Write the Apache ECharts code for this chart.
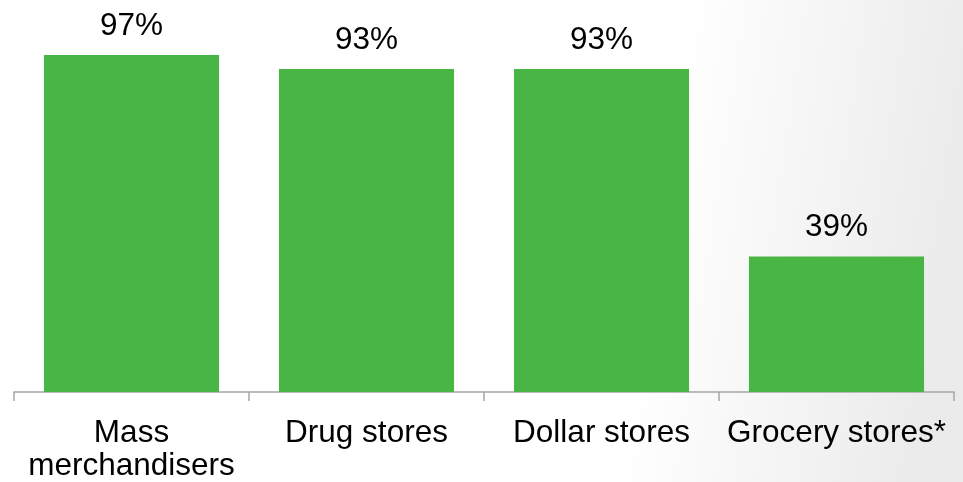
<!DOCTYPE html>
<html>
<head>
<meta charset="utf-8">
<script src="https://cdn.jsdelivr.net/npm/echarts@6/dist/echarts.min.js"></script>
<style>
  html, body { margin: 0; padding: 0; }
  #chart { width: 963px; height: 482px; }
</style>
</head>
<body>
<div id="chart"></div>
<script>
// Share of stores by channel (percent)
const categories = ['Mass\nmerchandisers', 'Drug stores', 'Dollar stores', 'Grocery stores*'];
const shares = [97, 93, 93, 39];

const chart = echarts.init(document.getElementById('chart'));
const font = '"Liberation Sans", Arial, sans-serif';

chart.setOption({
  backgroundColor: {
    type: 'linear', x: 0, y: 0, x2: 1, y2: 0.3,
    colorStops: [
      { offset: 0, color: '#ffffff' },
      { offset: 0.7, color: '#ffffff' },
      { offset: 1, color: '#ebebeb' }
    ]
  },
  animation: false,
  grid: { left: 14, right: 9, top: 44.6, bottom: 90, outerBoundsMode: 'none', containLabel: false },
  xAxis: {
    type: 'category',
    data: categories,
    axisLine: { show: true, lineStyle: { color: '#a6a6a6', width: 1.5 } },
    axisTick: { show: true, length: 9, lineStyle: { color: '#a6a6a6', width: 1.5 } },
    axisLabel: {
      color: '#000', fontFamily: font, fontSize: 31.5, lineHeight: 33,
      margin: 25, interval: 0
    }
  },
  yAxis: {
    type: 'value', min: 0, max: 100,
    show: false, splitLine: { show: false }
  },
  series: [{
    type: 'bar',
    data: shares,
    barCategoryGap: '25.5%',
    itemStyle: { color: '#49b544' },
    label: {
      show: true, position: 'top', distance: 13,
      formatter: p => p.value + '%',
      color: '#000', fontFamily: font, fontSize: 31.5
    }
  }]
});
</script>
</body>
</html>
